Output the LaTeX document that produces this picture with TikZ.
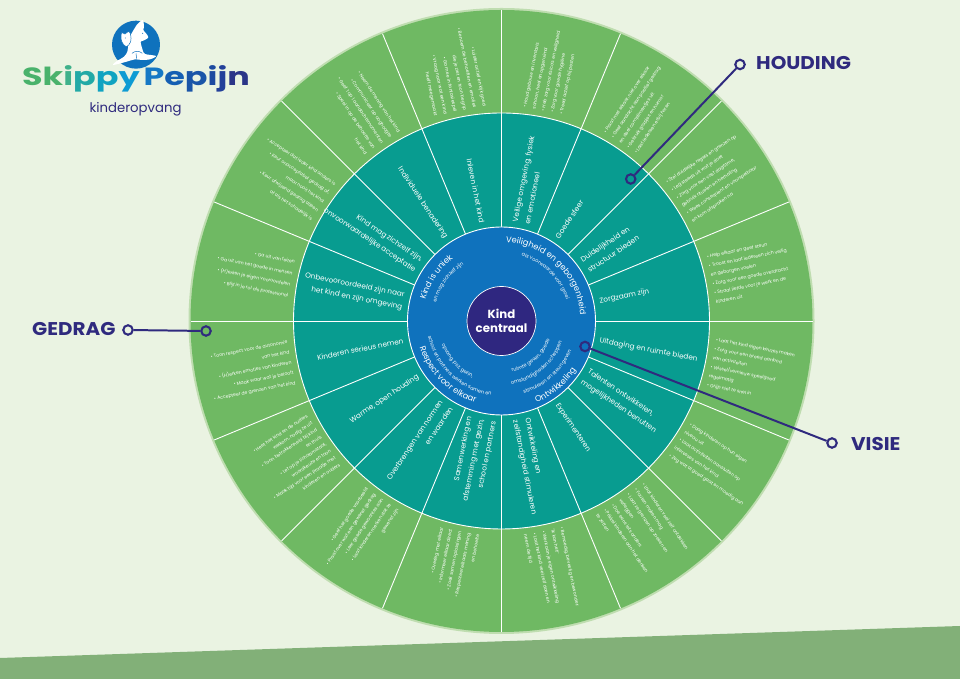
\documentclass[tikz,border=0pt]{standalone}
\usepackage{graphicx}
\usepackage{fontspec}
\setmainfont{Poppins}
\usetikzlibrary{decorations.text}
\definecolor{bgc}{HTML}{EAF3E2}
\definecolor{bandc}{HTML}{82B078}
\definecolor{rimc}{HTML}{BFDDB0}
\definecolor{outerc}{HTML}{6FB963}
\definecolor{tealc}{HTML}{089C90}
\definecolor{bluec}{HTML}{0F72BD}
\definecolor{purplec}{HTML}{2F2780}
\definecolor{inkc}{HTML}{2F2A7E}
\newcommand{\outfont}[1]{\fontsize{4.6}{#1}\selectfont}
\tikzset{
  outR/.style={text=white,inner sep=0pt,anchor=west,align=left,font=\outfont{9.3}},
  outL/.style={text=white,inner sep=0pt,anchor=east,align=right,font=\outfont{9.3}},
  midR/.style={text=white,inner sep=0pt,anchor=west,align=left,font=\fontsize{7.3}{12.5}\selectfont},
  midL/.style={text=white,inner sep=0pt,anchor=east,align=right,font=\fontsize{7.3}{12.5}\selectfont},
  spoke/.style={white,line width=0.9pt},
  ringdot/.style={circle,draw=inkc,line width=2.1pt,inner sep=0pt,minimum size=9.5pt},
  conn/.style={inkc,line width=2pt},
  tag/.style={text=inkc,inner sep=0pt,font=\fontsize{18.5}{20}\selectfont\bfseries}
}
\newcommand{\bigcurve}{\fontsize{8.3}{9}\selectfont\color{white}}
\newcommand{\smallcurve}{\fontsize{5}{6}\selectfont\color{white}}
\newcommand{\arcCW}[4]{\path[decorate,decoration={text along path,text align=center,text={|#4|#3}}] (#2+70:#1) arc (#2+70:#2-70:#1);}
\newcommand{\arcCCW}[4]{\path[decorate,decoration={text along path,text align=center,text={|#4|#3}}] (#2-70:#1) arc (#2-70:#2+70:#1);}
\begin{document}
\begin{tikzpicture}[x=1bp,y=1bp]
\useasboundingbox (0,0) rectangle (960,679);
\fill[bgc] (0,0) rectangle (960,679);
\fill[bandc] (0,0) -- (0,21) -- (960,53) -- (960,0) -- cycle;

\begin{scope}[shift={(501.5,358)}]
  \fill[rimc] (0,0) circle (313);
  \fill[outerc] (0,0) circle (311);
  \fill[tealc] (0,0) circle (208);
  \foreach \a in {0,22.5,...,337.5} \draw[spoke] (\a:90) -- (\a:311);
  \draw[white,line width=0.9pt] (0,0) circle (208);
  \fill[bluec,draw=white,line width=0.9pt] (0,0) circle (94);
  \fill[purplec,draw=white,line width=0.7pt] (0,0) circle (34.5);
  \node[text=white,inner sep=0pt,align=center,font=\fontsize{11.8}{13.5}\selectfont\bfseries] (kind) at (0,0) {Kind\\centraal};

  % blue ring
  \arcCW{79}{45.5}{Veiligheid en geborgenheid}{\bigcurve}
  \arcCW{68}{45.5}{als voorwaarde voor groei}{\smallcurve}
  \arcCW{79}{146}{Kind is uniek}{\bigcurve}
  \arcCW{68}{144}{en mag zichzelf zijn}{\smallcurve}
  \arcCCW{86}{225}{Respect voor elkaar}{\bigcurve}
  \arcCCW{75}{227}{school en partners werken samen en}{\smallcurve}
  \arcCCW{64}{222}{opvang, psz, gezin,}{\smallcurve}
  \arcCCW{89}{-50}{Ontwikkeling}{\bigcurve}
  \arcCCW{76}{-48}{stimuleren en steun geven}{\smallcurve}
  \arcCCW{64}{-50}{omstandigheden scheppen}{\smallcurve}
  \arcCCW{52}{-50}{ruimte geven, goede}{\smallcurve}

  % middle ring
  \node[midR,rotate=78.75] (m1) at (78.75:100) {Veilige omgeving, fysiek\\en emotioneel};
  \node[midR,rotate=56.25] (m2) at (56.25:100) {Goede sfeer};
  \node[midR,rotate=33.75] (m3) at (33.75:100) {Duidelijkheid en\\structuur bieden};
  \node[midR,rotate=11.25] (m4) at (11.25:100) {Zorgzaam zijn};
  \node[midR,rotate=-11.25] (m5) at (-11.25:100) {Uitdaging en ruimte bieden};
  \node[midR,rotate=-33.75] (m6) at (-33.75:100) {Talenten ontwikkelen,\\mogelijkheden benutten};
  \node[midR,rotate=-56.25] (m7) at (-56.25:100) {Experimenteren};
  \node[midR,rotate=-78.75] (m8) at (-78.75:100) {Ontwikkeling en\\zelfstandigheid stimuleren};
  \node[midL,rotate=78.75] (m9) at (258.75:100) {Samenwerking en\\afstemming met gezin,\\school en partners};
  \node[midL,rotate=56.25] (m10) at (236.25:100) {Overbrengen van normen\\en waarden};
  \node[midL,rotate=33.75] (m11) at (213.75:100) {Warme, open houding};
  \node[midL,rotate=11.25] (m12) at (191.25:100) {Kinderen serieus nemen};
  \node[midL,rotate=-11.25] (m13) at (168.75:100) {Onbevooroordeeld zijn naar\\het kind en zijn omgeving};
  \node[midL,rotate=-33.75] (m14) at (146.25:100) {Kind mag zichzelf zijn,\\onvoorwaardelijke acceptatie};
  \node[midL,rotate=-56.25] (m15) at (123.75:100) {Individuele benadering};
  \node[midL,rotate=-78.75] (m16) at (101.25:100) {Inleven in het kind};

  % outer ring
  \node[outR,rotate=78.75] (o1) at (78.75:214) {• Houd gebouw en inventaris\\schoon, heel en opgeruimd\\• Heb zorg voor risico's en veiligheid\\• Zorg voor goede hygiëne\\• Treed actief op bij pesten};
  \node[outR,rotate=56.25] (o2) at (56.25:214) {• Praat met elkaar, niet over elkaar\\• Geef aandacht aan positief gedrag\\en deel complimentjes uit\\• Gebruik grapjes en humor\\• Laat iedereen erbij horen};
  \node[outR,rotate=33.75] (o3) at (33.75:214) {• Stel duidelijke regels en grenzen op\\• Leg steeds uit wat je doet\\• Zorg voor een vast dagritme,\\gebruik rituelen en herhaling\\• Wees consequent en voorspelbaar\\en kom afspraken na};
  \node[outR,rotate=11.25] (o4) at (11.25:214) {• Help elkaar en geef steun\\• Troost en laat iedereen zich veilig\\en geborgen voelen\\• Zorg voor een goede overdracht\\• Straal liefde voor je werk en de\\kinderen uit};
  \node[outR,rotate=-11.25] (o5) at (-11.25:214) {• Laat het kind eigen keuzes maken\\• Zorg voor een breed aanbod\\van activiteiten\\• Wissel/vernieuw speelgoed\\regelmatig\\• Grijp niet te snel in};
  \node[outR,rotate=-33.75] (o6) at (-33.75:214) {• Daag kinderen op hun eigen\\niveau uit\\• Laat activiteiten aansluiten op\\interesses van het kind\\• Zeg wat al goed gaat en moedig aan};
  \node[outR,rotate=-56.25] (o7) at (-56.25:214) {• Laat kinderen veel zelf ontdekken\\• Fouten maken mag\\• Laat ze grenzen op zoeken en\\verleggen\\• Doe eens iets anders\\• Prikkel kinderen aan het denken\\te zetten};
  \node[outR,rotate=-78.75] (o8) at (-78.75:214) {• Bemoedig, bevestig en bewonder:\\'Ik kan het!'\\• Werk aan je eigen ontwikkeling\\• Laat het kind veel zelf doen en\\neem de tijd};
  \node[outL,rotate=78.75] (o9) at (258.75:214) {• Overleg met elkaar\\• Informeer elkaar direct\\• Zoek samen oplossingen\\• Respecteer elkaars mening\\en behoefte};
  \node[outL,rotate=56.25] (o10) at (236.25:214) {• Geef het goede voorbeeld\\• Praat over wat een gewenst gedrag\\• Leer goede gewoontes aan\\• Laat kinderen merken dat ze\\gewenst zijn};
  \node[outL,rotate=33.75,font=\outfont{8.4}] (o11) at (213.75:214) {• Heet het kind en de ouders\\welkom, nodig ze uit\\• Toon betrokkenheid bij kind\\en thuis\\• Let op je lichaamstaal,\\woordkeuze en toon\\• Maak tijd voor een praatje met\\kinderen en ouders};
  \node[outL,rotate=11.25,font=\outfont{10.5}] (o12) at (191.25:214) {• Toon respect voor de autonomie\\van het kind\\• (H)erken emoties van kinderen\\• Maak waar wat je belooft\\• Accepteer de grenzen van het kind};
  \node[outL,rotate=-11.25,font=\outfont{11.5}] (o13) at (168.75:214) {• Ga uit van feiten\\• Ga uit van het goede in mensen\\• (H)erken je eigen vooroordelen\\• Blijf in je rol als professional};
  \node[outL,rotate=-33.75,font=\outfont{10.5}] (o14) at (146.25:214) {• Accepteer dat ieder kind anders is\\• Keur onacceptabel gedrag af,\\maar nooit het kind\\• Keur afwijzend gedrag alleen\\af als het schadelijk is};
  \node[outL,rotate=-56.25,font=\outfont{10}] (o15) at (123.75:214) {• Neem de mening van het kind\\• Communiceer op ooghoogte\\• Geef 1 op 1 aandachtsmomenten\\• Speel in op de behoefte van\\het kind};
  \node[outL,rotate=-78.75,font=\outfont{10}] (o16) at (101.25:214) {• Luister actief en kijk goed\\• Benoem de behoeften en emoties\\die je ziet en toon begrip\\• Ga mee in fantasiespel\\• Vraag naar wat een kind\\heeft meegemaakt};
\end{scope}

% callouts
\node[ringdot] (hA) at (740,614.5) {};
\node[ringdot] (hB) at (630.7,500) {};
\draw[conn] (hA) -- (hB);
\node[tag,anchor=west] (houding) at (756,616) {\scalebox{1.08}[1]{HOUDING}};
\node[ringdot] (gA) at (128,349) {};
\node[ringdot] (gB) at (206,348) {};
\draw[conn] (gA) -- (gB);
\node[tag,anchor=west] (gedrag) at (32,350) {\scalebox{1.08}[1]{GEDRAG}};
\node[ringdot] (vA) at (832,236) {};
\node[ringdot] (vB) at (585,332.5) {};
\draw[conn] (vA) -- (vB);
\node[tag,anchor=west] (visie) at (851,235) {\scalebox{1.08}[1]{VISIE}};

% logo
\begin{scope}[shift={(10,669)},xscale=1/3,yscale=-1/3]
  \fill[bluec] (378,104) circle (72);
  \fill[white] plot[smooth cycle,tension=0.5] coordinates {(372,58) (380,45) (398,30) (402,50) (400,60) (412,75) (414,84) (400,92) (392,96) (398,120) (405,132) (438,138) (420,148) (395,150) (375,148) (350,155) (310,165) (318,155) (342,140) (352,125) (355,105) (360,80)};
  \fill[white,draw=bluec,line width=0.5pt] plot[smooth cycle,tension=0.6] coordinates {(335,68) (345,72) (356,64) (362,75) (362,95) (350,110) (338,100) (333,85)};
  \draw[bluec,line width=0.5pt] (366,130) .. controls (375,122) and (388,122) .. (397,130);
  \draw[bluec,line width=0.5pt] (378,130) -- (380,146);
  \fill[bluec] (398,70) circle (1.6);
  \fill[bluec] (346,84) circle (1.4);
\end{scope}
\node[inner sep=0pt,anchor=base,font=\fontsize{25}{30}\selectfont\bfseries] (logotext) at (136,593) {\scalebox{1.34}[1]{\textcolor[HTML]{49B26B}{S}\textcolor[HTML]{4AB26C}{k}\textcolor[HTML]{3FB18B}{i}\textcolor[HTML]{22A9A6}{p}\textcolor[HTML]{10A3C1}{p}\textcolor[HTML]{0D9BD3}{y}\hspace{3pt}\textcolor[HTML]{1678C5}{P}\textcolor[HTML]{155FB3}{e}\textcolor[HTML]{1A55A8}{p}\textcolor[HTML]{1D4AA0}{i}\textcolor[HTML]{23409A}{j}\textcolor[HTML]{2B3588}{n}}};
\node[inner sep=0pt,anchor=base,text=inkc,font=\fontsize{13.3}{14}\selectfont] (logosub) at (135.5,566.5) {kinderopvang};
\end{tikzpicture}
\end{document}
